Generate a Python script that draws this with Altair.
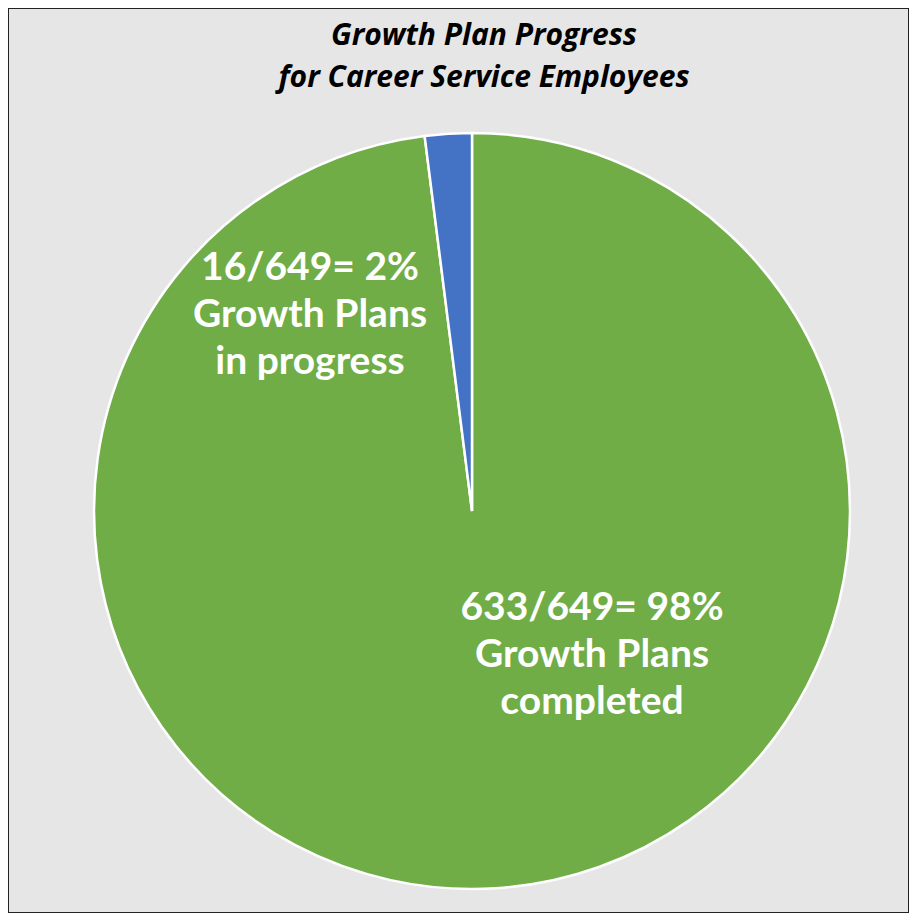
import altair as alt
import pandas as pd

categories = ["Growth Plans completed", "Growth Plans in progress"]
# slice shares as drawn in the reference (rounded percentages)
shares = [98, 2]
colors = ["#70ad47", "#4472c4"]
label_texts = ["633/649= 98%\nGrowth Plans\ncompleted", "16/649= 2%\nGrowth Plans\nin progress"]
title_lines = ["Growth Plan Progress\nfor Career Service Employees"]

df = pd.DataFrame({"category": categories, "value": shares, "order": [0, 1]})

W, H = 901, 905
CX, CY, R = 464, 503, 378

pie = alt.Chart(df).mark_arc(outerRadius=R, stroke="white", strokeWidth=2.5).encode(
    theta=alt.Theta("value:Q", stack=True),
    order=alt.Order("order:Q"),
    color=alt.Color("category:N", scale=alt.Scale(domain=categories, range=colors), legend=None),
    x=alt.value(CX),
    y=alt.value(CY),
)

lab_df0 = pd.DataFrame({"t": [label_texts[0]]})
lab_df1 = pd.DataFrame({"t": [label_texts[1]]})
tit_df = pd.DataFrame({"t": title_lines})

def label(d, x, y):
    return alt.Chart(d).mark_text(
        font="Lato", fontSize=39, fontWeight="bold", color="white",
        align="center", baseline="middle", lineBreak="\n", lineHeight=47,
    ).encode(text="t:N", x=alt.value(x), y=alt.value(y))

lab1 = label(lab_df0, 584, 600)
lab2 = label(lab_df1, 302, 260)

title = alt.Chart(tit_df).mark_text(
    font="Open Sans", fontSize=30, fontWeight="bold", fontStyle="italic", color="black",
    align="center", baseline="alphabetic", lineBreak="\n", lineHeight=42,
).encode(text="t:N", x=alt.value(476), y=alt.value(37))

chart = alt.layer(pie, lab1, lab2, title).properties(
    width=W, height=H, padding=0, background="#e7e6e6",
    autosize=alt.AutoSizeParams(type="fit", contains="padding"),
).configure_view(stroke="#222222", strokeWidth=2)

chart.save("out.html", embed_options={"renderer": "svg", "actions": False})
